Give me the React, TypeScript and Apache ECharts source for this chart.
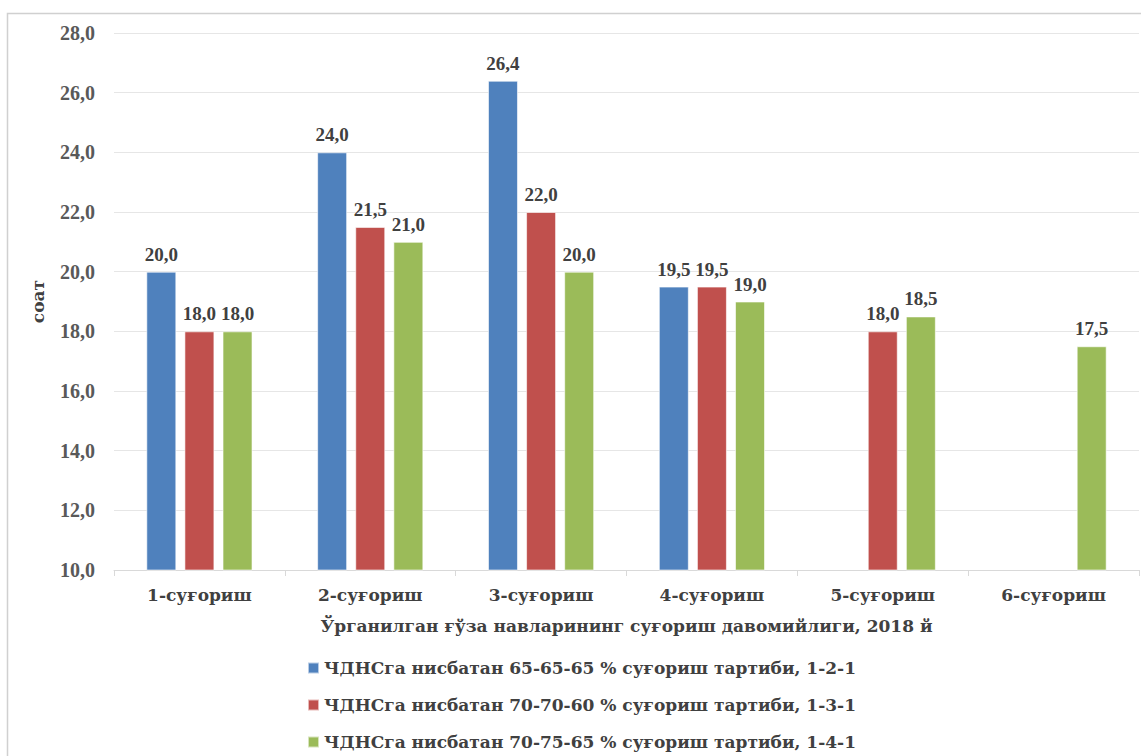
import React, { useEffect, useRef } from "react";
import * as echarts from "echarts";

const categories = ["1-суғориш", "2-суғориш", "3-суғориш", "4-суғориш", "5-суғориш", "6-суғориш"];
const seriesNames = [
  "ЧДНСга нисбатан 65-65-65 % суғориш тартиби, 1-2-1",
  "ЧДНСга нисбатан 70-70-60 % суғориш тартиби, 1-3-1",
  "ЧДНСга нисбатан 70-75-65 % суғориш тартиби, 1-4-1",
];
const blueValues: (number | null)[] = [20.0, 24.0, 26.4, 19.5, null, null];
const redValues: (number | null)[] = [18.0, 21.5, 22.0, 19.5, 18.0, null];
const greenValues: (number | null)[] = [18.0, 21.0, 20.0, 19.0, 18.5, 17.5];
const colors = ["#4F81BD", "#C0504D", "#9BBB59"];
const yTitle = "соат";
const xTitle = "Ўрганилган ғўза навларининг суғориш давомийлиги, 2018 й";

const FONT_NUM = "Liberation Serif";
const FONT_TXT = "DejaVu Serif";

export default function App() {
  const ref = useRef<HTMLDivElement>(null);
  useEffect(() => {
    if (!ref.current) return;
    const chart = echarts.init(ref.current, undefined, { renderer: "svg" });
    const fmt = (v: number) => v.toFixed(1).replace(".", ",");
    const mk = (name: string, data: (number | null)[], color: string) => ({
      name,
      type: "bar",
      data: data.map((v) => (v === null ? "-" : v)),
      barWidth: 30,
      barGap: "27%",
      itemStyle: { color, borderColor: "rgba(255,255,255,0.6)", borderWidth: 1 },
      label: {
        show: true,
        position: "top",
        distance: 8,
        formatter: (p: any) => fmt(p.value),
        fontFamily: FONT_NUM,
        fontWeight: "bold",
        fontSize: 19,
        color: "#404040",
      },
    });
    chart.setOption({
      animation: false,
      backgroundColor: "#ffffff",
      grid: { left: 114, right: 2, top: 33, bottom: 186 },
      graphic: [
        {
          type: "rect",
          shape: { x: 7.5, y: 13.5, width: 1150, height: 760 },
          style: { fill: "none", stroke: "#D0D0D0", lineWidth: 1.5 },
          silent: true,
        },
      ],
      legend: {
        orient: "vertical",
        left: 307,
        top: 657,
        padding: 0,
        height: 100,
        itemWidth: 11,
        itemHeight: 11,
        itemGap: 15,
        icon: "rect",
        data: seriesNames,
        textStyle: {
          fontFamily: FONT_TXT,
          fontWeight: "bold",
          fontSize: 17,
          lineHeight: 22,
          color: "#404040",
        },
      },
      xAxis: {
        type: "category",
        data: categories,
        name: xTitle,
        nameLocation: "middle",
        nameGap: 47,
        nameTextStyle: { fontFamily: FONT_TXT, fontWeight: "bold", fontSize: 17, color: "#404040" },
        axisLine: { lineStyle: { color: "#D9D9D9", width: 1 } },
        axisTick: { show: true, length: 6, lineStyle: { color: "#D9D9D9" } },
        axisLabel: {
          margin: 16,
          fontFamily: FONT_TXT,
          fontWeight: "bold",
          fontSize: 17,
          color: "#404040",
        },
      },
      yAxis: {
        type: "value",
        min: 10,
        max: 28,
        interval: 2,
        name: yTitle,
        nameLocation: "middle",
        nameRotate: 90,
        nameGap: 68,
        nameTextStyle: { fontFamily: FONT_TXT, fontWeight: "bold", fontSize: 17, color: "#404040" },
        axisLine: { show: false },
        axisTick: { show: false },
        splitLine: { lineStyle: { color: "#E6E6E6", width: 1 } },
        axisLabel: {
          margin: 19,
          formatter: (v: number) => fmt(v),
          fontFamily: FONT_NUM,
          fontWeight: "bold",
          fontSize: 20,
          color: "#595959",
        },
      },
      series: [
        mk(seriesNames[0], blueValues, colors[0]),
        mk(seriesNames[1], redValues, colors[1]),
        mk(seriesNames[2], greenValues, colors[2]),
      ],
    });
    return () => chart.dispose();
  }, []);
  return (
    <div
      ref={ref}
      style={{ position: "fixed", left: 0, top: 0, width: 1141, height: 756, background: "#fff" }}
    />
  );
}
